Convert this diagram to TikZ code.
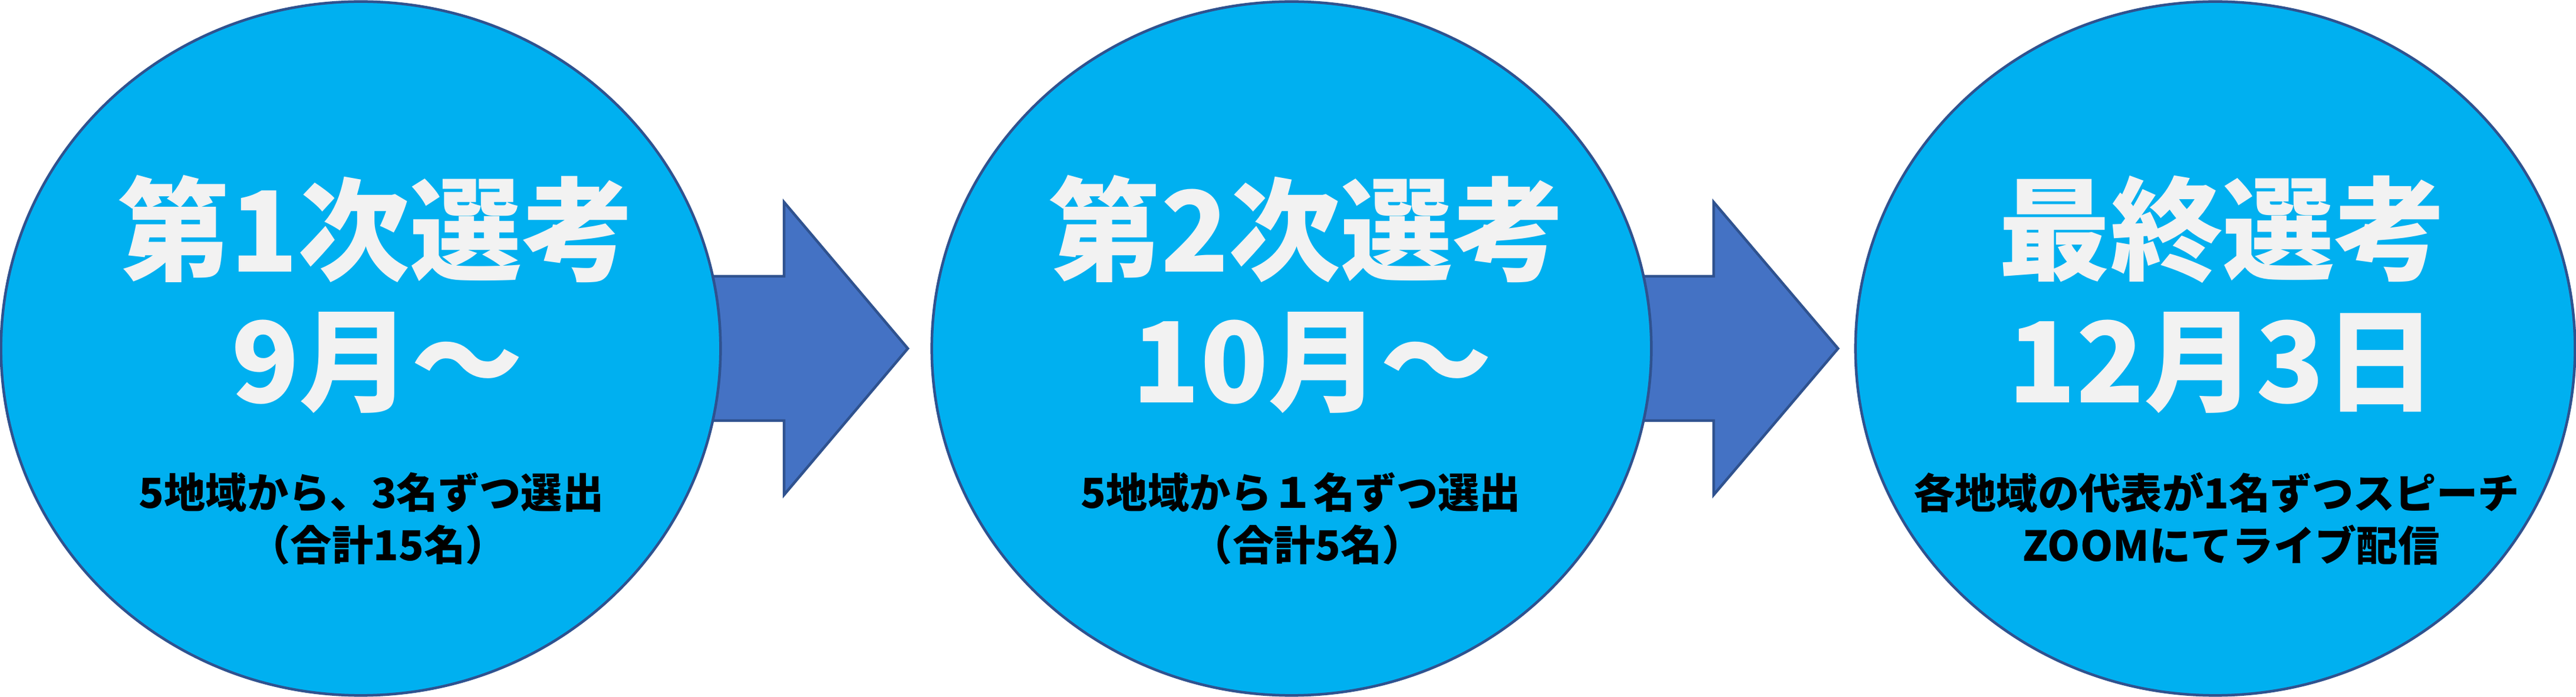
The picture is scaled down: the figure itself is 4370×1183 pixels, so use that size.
\documentclass[tikz,border=0pt]{standalone}
\usepackage{fontspec}
\newfontfamily\jp{Noto Sans CJK JP}
\usetikzlibrary{shapes.geometric}
\definecolor{ellfill}{HTML}{00B0F0}
\definecolor{ellline}{HTML}{2F528F}
\definecolor{arrfill}{HTML}{4472C4}
\definecolor{headtxt}{HTML}{F2F2F2}
\tikzset{
  stage/.style={ellipse, draw=ellline, fill=ellfill, line width=0.045cm,
    minimum width=12.2cm, minimum height=11.77cm, inner sep=0pt},
  bigarrow/.style={draw=ellline, fill=arrfill, line width=0.045cm, line join=miter},
  headline/.style={inner sep=0pt, text=headtxt, font=\jp\bfseries\fontsize{54pt}{62pt}\selectfont},
  subline/.style={inner sep=0pt, text=black, font=\jp\bfseries\fontsize{20pt}{24pt}\selectfont},
}
\begin{document}
\begin{tikzpicture}[x=0.01cm, y=-0.01cm]
\useasboundingbox (0,0) rectangle (4370,1183);
% arrows (behind the ellipses)
\draw[bigarrow] (1100,469) -- (1330,469) -- (1330,343) -- (1540,591.5) -- (1330,840) -- (1330,714) -- (1100,714) -- cycle;
\draw[bigarrow] (2680,469) -- (2907,469) -- (2907,343) -- (3118,591.5) -- (2907,840) -- (2907,714) -- (2680,714) -- cycle;
% stages
\node[stage] (s1) at (612,591.5) {};
\node[stage] (s2) at (2191,591.5) {};
\node[stage] (s3) at (3758,591.5) {};
% texts stage 1
\node[headline] (t1a) at (638,389) {第1次選考};
\node[headline] (t1b) at (640,616) {9月〜};
\node[subline] (t1c) at (630,836) {5地域から、3名ずつ選出};
\node[subline] (t1d) at (641,925) {（合計15名）};
% texts stage 2
\node[headline] (t2a) at (2217,389) {第2次選考};
\node[headline] (t2b) at (2226,616) {10月〜};
\node[subline] (t2c) at (2207,836) {5地域から１名ずつ選出};
\node[subline] (t2d) at (2218,925) {（合計5名）};
% texts stage 3
\node[headline] (t3a) at (3770,389) {最終選考};
\node[headline] (t3b) at (3770,616) {12月3日};
\node[subline] (t3c) at (3760,836) {各地域の代表が1名ずつスピーチ};
\node[subline] (t3d) at (3785,925) {ZOOMにてライブ配信};
\end{tikzpicture}
\end{document}
